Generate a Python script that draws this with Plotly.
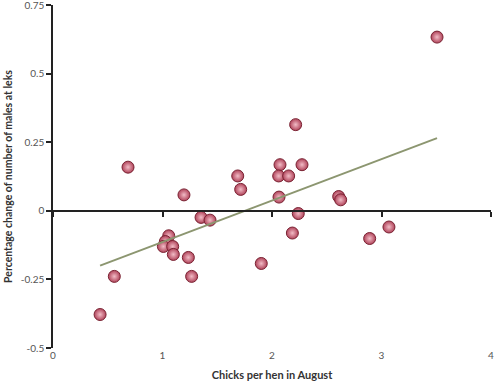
import plotly.graph_objects as go

chicks = [0.43, 0.56, 0.685, 1.196, 1.057, 1.026, 1.008, 1.093, 1.099, 1.236, 1.266,
          1.352, 1.434, 1.714, 1.687, 1.902, 2.064, 2.073, 2.061, 2.152, 2.216, 2.274,
          2.240, 2.186, 2.609, 2.627, 2.892, 3.068, 3.507]
change = [-0.378, -0.239, 0.159, 0.058, -0.091, -0.112, -0.130, -0.130, -0.159, -0.170, -0.239,
          -0.024, -0.034, 0.078, 0.127, -0.192, 0.050, 0.168, 0.127, 0.127, 0.314, 0.168,
          -0.010, -0.081, 0.052, 0.040, -0.101, -0.059, 0.633]
trend_x = [0.43, 3.507]
trend_y = [-0.200, 0.265]
x_ticks = [0, 1, 2, 3, 4]
y_ticks = [0.75, 0.5, 0.25, 0, -0.25, -0.5]
y_tick_text = ["0.75", "0.5", "0.25", "0", "-0.25", "-0.5"]

x_range = [0, 4]
y_range = [-0.5, 0.75]
zero_pos = (0 - y_range[0]) / (y_range[1] - y_range[0])

fig = go.Figure()
fig.add_trace(go.Scatter(
    x=trend_x, y=trend_y, mode="lines", xaxis="x2",
    line=dict(color="#8c9670", width=2), hoverinfo="skip", showlegend=False))
fig.add_trace(go.Scatter(
    x=chicks, y=change, mode="markers", showlegend=False,
    marker=dict(size=12, color="#b0435a",
                gradient=dict(type="radial", color="#f2bcc6"),
                line=dict(color="#7a2333", width=1))))

font_family = "Lato, 'Open Sans', sans-serif"
fig.update_layout(
    width=500, height=384,
    margin=dict(l=53, r=9, t=5, b=36),
    plot_bgcolor="white", paper_bgcolor="white",
    font=dict(family=font_family, size=10, color="#444"),
    xaxis=dict(range=x_range, tickvals=x_ticks, showline=False, ticks="",
               showgrid=False, zeroline=False, automargin=False,
               ticklabeloverflow="allow",
               tickfont=dict(size=10, color="#555"),
               title=dict(text="<b>Chicks per hen in August</b>",
                          font=dict(size=11, color="#333"), standoff=11)),
    xaxis2=dict(range=x_range, matches="x", overlaying="x", anchor="free",
                position=zero_pos, tickvals=x_ticks, showticklabels=False,
                showline=True, linecolor="#222", linewidth=1.5,
                ticks="outside", ticklen=5, tickcolor="#222", tickwidth=1.5,
                showgrid=False, zeroline=False, automargin=False),
    yaxis=dict(range=y_range, tickvals=y_ticks, ticktext=y_tick_text,
               showline=True, linecolor="#222", linewidth=1.5,
               ticks="outside", ticklen=5, tickcolor="#222", tickwidth=1.5,
               showgrid=False, zeroline=False, automargin=False,
               ticklabeloverflow="allow",
               tickfont=dict(size=10, color="#555"),
               title=dict(text="<b>Percentage change of number of males at leks</b>",
                          font=dict(size=10.5, color="#333"), standoff=6)),
)

fig.write_html("out.html", config={"displayModeBar": False},
               post_script="document.body.style.margin='0px';document.body.style.padding='0px';")
